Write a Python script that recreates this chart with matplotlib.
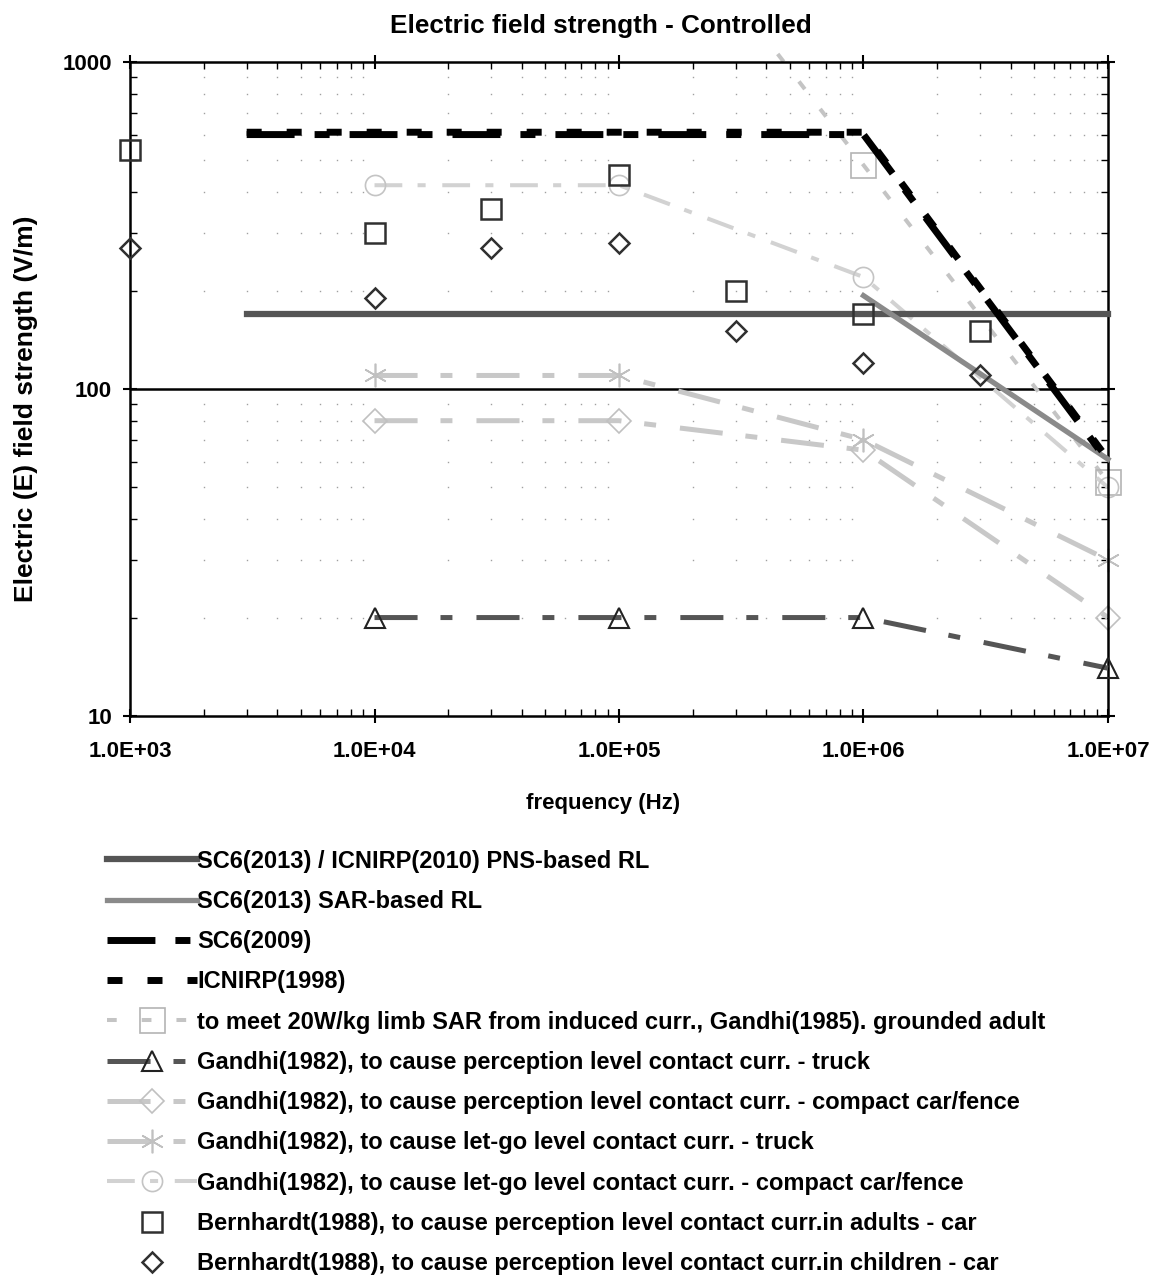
import numpy as np
import matplotlib
matplotlib.use("Agg")
import matplotlib.pyplot as plt
from matplotlib.patches import Rectangle

plt.rcParams['font.family'] = ['Liberation Sans', 'DejaVu Sans']
plt.rcParams['font.weight'] = 'bold'
plt.rcParams['lines.scale_dashes'] = False

# data (frequency in Hz, field in V/m)
pns_f = [3e3, 1e7]
pns_e = [170, 170]
sar_f = [1e6, 1e7]
sar_e = [193, 61]
sc6_2009_f = [3e3, 1e6, 1e7]
sc6_2009_e = [600, 600, 60]
icnirp_f = [3e3, 1e6, 1e7]
icnirp_e = [610, 610, 61]
gandhi85_f = [1e5, 1e6, 1e7]
gandhi85_e = [4500, 484, 52]
g82_f = [1e4, 1e5, 1e6, 1e7]
g82_perc_truck = [20, 20, 20, 14]
g82_perc_car = [80, 80, 65, 20]
g82_letgo_truck = [110, 110, 70, 30]
g82_letgo_car = [420, 420, 220, 50]
bern_f = [1e3, 1e4, 3e4, 1e5, 3e5, 1e6, 3e6]
bern_adults = [540, 300, 355, 450, 200, 170, 150]
bern_children = [270, 190, 270, 280, 150, 120, 110]

labels = [
    'SC6(2013) / ICNIRP(2010) PNS-based RL',
    'SC6(2013) SAR-based RL',
    'SC6(2009)',
    'ICNIRP(1998)',
    'to meet 20W/kg limb SAR from induced curr., Gandhi(1985). grounded adult',
    'Gandhi(1982), to cause perception level contact curr. - truck',
    'Gandhi(1982), to cause perception level contact curr. - compact car/fence',
    'Gandhi(1982), to cause let-go level contact curr. - truck',
    'Gandhi(1982), to cause let-go level contact curr. - compact car/fence',
    'Bernhardt(1988), to cause perception level contact curr.in adults - car',
    'Bernhardt(1988), to cause perception level contact curr.in children - car',
]

fig = plt.figure(figsize=(11.63, 12.79), dpi=100)
ax = fig.add_axes([0.1118, 0.4402, 0.8409, 0.5113])
ax.set_xscale('log')
ax.set_yscale('log')
ax.set_xlim(1e3, 1e7)
ax.set_ylim(10, 1000)

# clip region a bit larger than the axes so edge markers show whole
clip = Rectangle((-0.03, -0.03), 1.06, 1.056, transform=ax.transAxes, visible=False)
ax.add_patch(clip)

# sparse dotted minor grid (dots at minor intersections)
mx = [m * 10.0 ** d for d in range(3, 7) for m in range(2, 10)]
my = [m * 10.0 ** d for d in range(1, 3) for m in range(2, 10)]
gx, gy = np.meshgrid(mx, my)
ax.plot(gx.ravel(), gy.ravel(), ls='none', marker='s', ms=1.0, color='#a0a0a0', mew=0, zorder=0)
ax.axhline(100, color='black', lw=1.8, zorder=1)

g82_ls = (0, (31, 16.5, 8.6, 17.3))
lines = []
lines += ax.plot(pns_f, pns_e, color='#555555', lw=4.5, label=labels[0], zorder=3)
lines += ax.plot(sar_f, sar_e, color='#8a8a8a', lw=3.8, label=labels[1], zorder=3)
lines += ax.plot(sc6_2009_f, sc6_2009_e, color='black', lw=5, ls=(0, (34.5, 14.4, 10.8, 14.4)),
                 label=labels[2], zorder=4)
lines += ax.plot(icnirp_f, icnirp_e, color='black', lw=5, ls=(0, (10.8, 18)), label=labels[3], zorder=4)
lines += ax.plot(gandhi85_f, gandhi85_e, color='#c4c4c4', lw=2.9, ls=(0, (7, 18)), marker='s', ms=18,
                 mfc='none', mec='#b4b4b4', mew=1.2, label=labels[4], zorder=2)
lines += ax.plot(g82_f, g82_perc_truck, color='#555555', lw=3.6, ls=g82_ls, marker='^', ms=15,
                 mfc='none', mec='#222222', mew=1.5, label=labels[5], zorder=3)
lines += ax.plot(g82_f, g82_perc_car, color='#c8c8c8', lw=3.6, ls=g82_ls, marker='D', ms=12,
                 mfc='none', mec='#c0c0c0', mew=1.2, label=labels[6], zorder=2)
lines += ax.plot(g82_f, g82_letgo_truck, color='#c8c8c8', lw=3.6, ls=g82_ls, marker=(6, 2, 0), ms=17,
                 mfc='none', mec='#c0c0c0', mew=1.2, label=labels[7], zorder=2)
lines += ax.plot(g82_f, g82_letgo_car, color='#d2d2d2', lw=2.9, ls=(0, (20, 11, 5.8, 12)), marker='o',
                 ms=14.5, mfc='none', mec='#c4c4c4', mew=1.2, label=labels[8], zorder=2)
lines += ax.plot(bern_f, bern_adults, ls='none', marker='s', ms=15, mfc='none', mec='#303030', mew=1.8,
                 label=labels[9], zorder=5)
lines += ax.plot(bern_f, bern_children, ls='none', marker='D', ms=10.5, mfc='none', mec='#303030',
                 mew=1.8, label=labels[10], zorder=5)
for ln in lines:
    ln.set_clip_path(clip)

ax.set_xticks([1e3, 1e4, 1e5, 1e6, 1e7])
ax.set_xticklabels(['1.0E+03', '1.0E+04', '1.0E+05', '1.0E+06', '1.0E+07'])
ax.set_yticks([10, 100, 1000])
ax.set_yticklabels(['10', '100', '1000'])
ax.tick_params(which='major', direction='inout', length=10, width=1.5, labelsize=16,
               top=True, right=True)
ax.tick_params(axis='x', which='major', pad=13)
ax.tick_params(axis='y', which='major', pad=8)
ax.tick_params(which='minor', direction='in', length=5, width=1, top=True, right=True)
for s in ax.spines.values():
    s.set_linewidth(1.8)

ax.set_title('Electric field strength - Controlled', fontsize=18.8, fontweight='bold', pad=21, x=0.481)
ax.set_xlabel('frequency (Hz)', fontsize=16, fontweight='bold')
ax.xaxis.set_label_coords(0.484, -0.118)
ax.set_ylabel('Electric (E) field strength (V/m)', fontsize=19, fontweight='bold')
ax.yaxis.set_label_coords(-0.094, 0.47)

fig.legend(loc='upper left', bbox_to_anchor=(0.084, 0.343), frameon=False, fontsize=17,
           handlelength=3.8, handletextpad=0.02, labelspacing=0.73, borderaxespad=0)

fig.savefig('out.png', dpi=100)
